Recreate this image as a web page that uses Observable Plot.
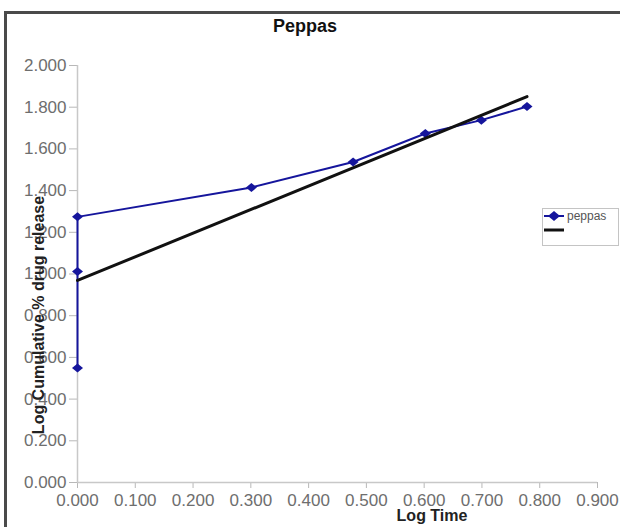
<!DOCTYPE html>
<html><head><meta charset="utf-8">
<script src="https://cdn.jsdelivr.net/npm/d3@7"></script>
<script src="https://cdn.jsdelivr.net/npm/@observablehq/plot@0.6"></script>
<style>
body{margin:0;background:#fff;font-family:"Liberation Sans",Arial,sans-serif;}
#wrap{position:relative;width:620px;height:527px;overflow:hidden;background:#fff;}
#wrap svg{position:absolute;left:0;top:0;}
.ov{position:absolute;white-space:nowrap;}
#frame{position:absolute;left:4px;top:11px;width:700px;height:600px;border-top:3px solid #4a4a4a;border-left:3px solid #4a4a4a;}
#title{left:0;width:610px;top:16px;text-align:center;font-size:18px;font-weight:bold;color:#111;}
#xlab{left:432px;top:507px;transform:translateX(-50%);font-size:16px;font-weight:bold;color:#222;}
#ylab{left:39px;top:315px;transform:translate(-50%,-50%) rotate(-90deg);font-size:16px;font-weight:bold;color:#222;}
#legend{position:absolute;left:542px;top:208px;width:75px;height:36px;border:1px solid #c4c4c4;background:#fff;}
</style></head><body><div id="wrap"><div id="frame"></div></div>
<script>
const title = "Peppas";
const xLabel = "Log Time";
const yLabel = "Log Cumulative % drug release";
const seriesName = "peppas";
const logTime = [0, 0, 0, 0.301, 0.477, 0.602, 0.699, 0.778];
const logRelease = [0.549, 1.012, 1.274, 1.415, 1.537, 1.674, 1.738, 1.803];
const trendX = [0, 0.778];
const trendY = [0.969, 1.851];
const xTicks = [0, 0.1, 0.2, 0.3, 0.4, 0.5, 0.6, 0.7, 0.8, 0.9];
const yTicks = [0, 0.2, 0.4, 0.6, 0.8, 1.0, 1.2, 1.4, 1.6, 1.8, 2.0];

const blue = "#15159c";
const data = logTime.map((x, i) => ({x, y: logRelease[i]}));
const trend = trendX.map((x, i) => ({x, y: trendY[i]}));
const diamond = {draw(ctx) { ctx.moveTo(0, -4.5); ctx.lineTo(5.5, 0); ctx.lineTo(0, 4.5); ctx.lineTo(-5.5, 0); ctx.closePath(); }};

const chart = Plot.plot({
  width: 620, height: 527,
  marginLeft: 77, marginRight: 23, marginTop: 65, marginBottom: 45,
  style: {fontFamily: "'Liberation Sans', Arial, sans-serif", fontSize: "17px", color: "#6e6e6e", background: "transparent"},
  x: {domain: [0, 0.9]},
  y: {domain: [0, 2]},
  marks: [
    Plot.axisX({ticks: xTicks, tickFormat: d3.format(".3f"), tickSize: 6, tickPadding: 5, stroke: "#b8b8b8", label: null}),
    Plot.axisY({ticks: yTicks, tickFormat: d3.format(".3f"), tickSize: 8, tickPadding: 3, stroke: "#b8b8b8", label: null}),
    Plot.ruleX([0], {stroke: "#c8c8c8", strokeWidth: 1.5}),
    Plot.ruleY([0], {stroke: "#c8c8c8", strokeWidth: 1.5}),
    Plot.line(data, {x: "x", y: "y", stroke: blue, strokeWidth: 2}),
    Plot.dot(data, {x: "x", y: "y", symbol: diamond, fill: blue, stroke: "none"}),
    Plot.line(trend, {x: "x", y: "y", stroke: "#111", strokeWidth: 3})
  ]
});
const wrap = document.getElementById("wrap");
wrap.appendChild(chart);

function ov(id, text) { const d = document.createElement("div"); d.className = "ov"; d.id = id; d.textContent = text; wrap.appendChild(d); }
ov("title", title);
ov("xlab", xLabel);
ov("ylab", yLabel);

const lg = document.createElement("div");
lg.id = "legend";
lg.innerHTML = `<svg width="75" height="36" style="position:absolute;left:0;top:0">
<line x1="1" x2="21" y1="7" y2="7" stroke="${blue}" stroke-width="2"/>
<path d="M11,2 L17,7 L11,12 L5,7 Z" fill="${blue}"/>
<line x1="1" x2="21" y1="21" y2="21" stroke="#111" stroke-width="3"/>
<text x="24" y="11" font-size="12" fill="#555" font-family="'Liberation Sans', Arial, sans-serif">${seriesName}</text>
</svg>`;
wrap.appendChild(lg);
</script>
</body></html>
